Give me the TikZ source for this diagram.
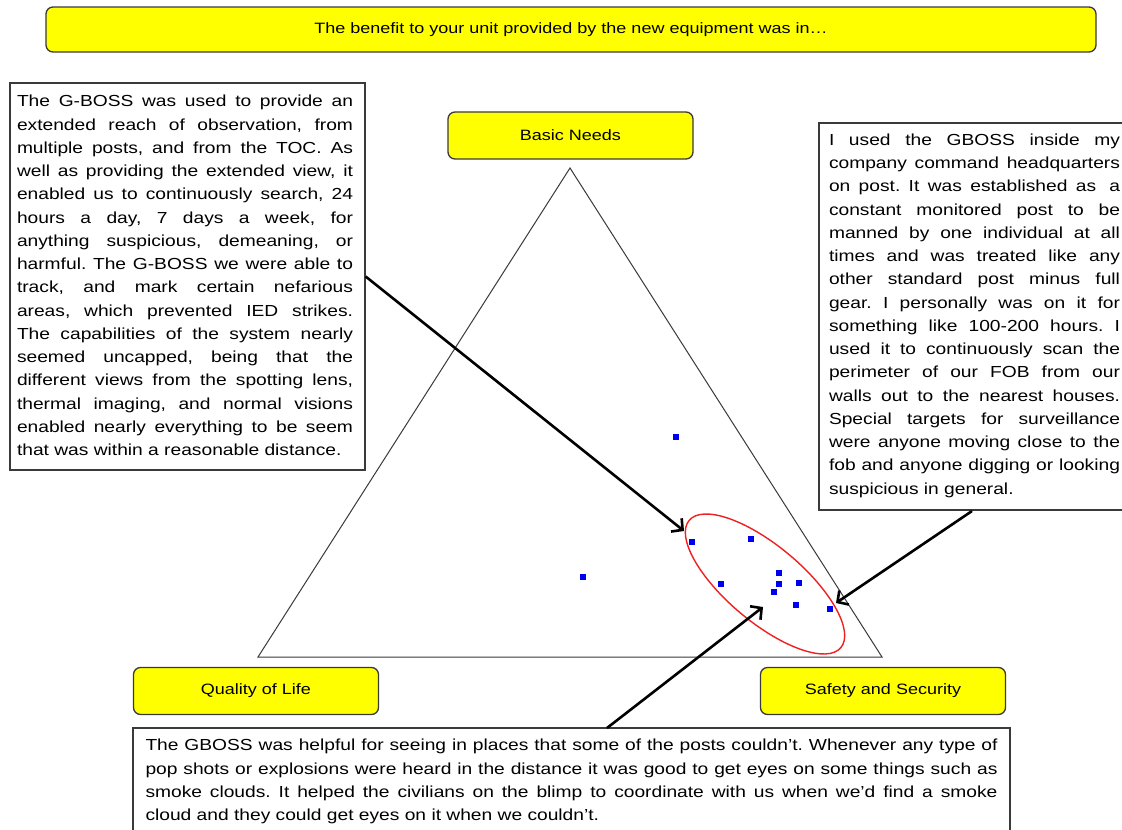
\documentclass[tikz,border=0pt]{standalone}
\usepackage{fontspec}
\setmainfont{Liberation Sans}[FakeStretch=1.2]
\usetikzlibrary{shapes.geometric,arrows.meta}
\setlength{\parindent}{0pt}
\frenchspacing
\newdimen\lw
\newcommand{\jl}[1]{\hbox to \lw{\spaceskip=0.28em plus 1fil\relax #1}\par}
\newcommand{\lastln}[1]{\hbox{#1}\par}
\definecolor{boxyellow}{HTML}{FFFF00}
\definecolor{edgegray}{HTML}{3A3A3A}
\definecolor{ptblue}{HTML}{0000F0}
\definecolor{ellred}{HTML}{F02020}
\tikzset{
  label box/.style={draw=edgegray, line width=1.3pt, fill=boxyellow, rounded corners=7pt,
    minimum width=245pt, minimum height=47pt, inner sep=0pt,
    font=\fontsize{15}{18}\selectfont},
  text frame/.style={draw=edgegray, line width=1.3pt, fill=white, inner sep=0pt},
  body/.style={font=\fontsize{16}{23.25}\selectfont, align=left},
  pt/.style={rectangle, fill=ptblue, minimum size=6pt, inner sep=0pt},
  pointer/.style={line width=2.6pt, -{Straight Barb[length=8pt,width=17pt,line width=2.6pt]}},
}
\begin{document}
\begin{tikzpicture}[x=1pt,y=-1pt]
\useasboundingbox (0,0) rectangle (1122,830);
\fill[white] (0,0) rectangle (1122,830);

% title
\node[label box, minimum width=1050pt, minimum height=45pt] (title) at (571,29.5)
  {The benefit to your unit provided by the new equipment was in\ldots};

% triangle
\coordinate (apex) at (570,168);
\coordinate (bl) at (258,657);
\coordinate (br) at (882,657);
\draw[edgegray, line width=1pt] (apex) -- (bl) -- (br) -- cycle;

% corner labels
\node[label box] (basic) at (570.5,135.5) {Basic Needs};
\node[label box] (qol) at (256,691) {Quality of Life};
\node[label box] (safe) at (883,691) {Safety and Security};

% data points
\node[pt] (p1) at (676,437) {};
\node[pt] (p2) at (692,542) {};
\node[pt] (p3) at (751,539) {};
\node[pt] (p4) at (583,577) {};
\node[pt] (p5) at (721,584) {};
\node[pt] (p6) at (779,573) {};
\node[pt] (p7) at (779,584) {};
\node[pt] (p8) at (799,583) {};
\node[pt] (p9) at (774,592) {};
\node[pt] (p10) at (796,605) {};
\node[pt] (p11) at (830,609) {};

% ellipse
\node[ellipse, draw=ellred, line width=1.4pt, minimum width=198pt, minimum height=76pt,
  inner sep=0pt, rotate=-40] (ell) at (765,584) {};

% left text box
\node[text frame, minimum width=355pt, minimum height=387pt] (lbox) at (187.5,276.5) {};
\node[body, text width=336pt, inner sep=0pt] (ltext) at (185,275.5) {\lw=336pt
\jl{The G-BOSS was used to provide an}
\jl{extended reach of observation, from}
\jl{multiple posts, and from the TOC. As}
\jl{well as providing the extended view, it}
\jl{enabled us to continuously search, 24}
\jl{hours a day, 7 days a week, for}
\jl{anything suspicious, demeaning, or}
\jl{harmful. The G-BOSS we were able to}
\jl{track, and mark certain nefarious}
\jl{areas, which prevented IED strikes.}
\jl{The capabilities of the system nearly}
\jl{seemed uncapped, being that the}
\jl{different views from the spotting lens,}
\jl{thermal imaging, and normal visions}
\jl{enabled nearly everything to be seem}
\lastln{that was within a reasonable distance.}};

% right text box
\node[text frame, minimum width=311pt, minimum height=387pt] (rbox) at (974.5,316.5) {};
\node[body, text width=291pt, inner sep=0pt] (rtext) at (974.5,315.5) {\lw=291pt
\jl{I used the GBOSS inside my}
\jl{company command headquarters}
\jl{on post. It was established as \kern0.3em a}
\jl{constant monitored post to be}
\jl{manned by one individual at all}
\jl{times and was treated like any}
\jl{other standard post minus full}
\jl{gear. I personally was on it for}
\jl{something like 100-200 hours. I}
\jl{used it to continuously scan the}
\jl{perimeter of our FOB from our}
\jl{walls out to the nearest houses.}
\jl{Special targets for surveillance}
\jl{were anyone moving close to the}
\jl{fob and anyone digging or looking}
\lastln{suspicious in general.}};

% bottom text box
\node[text frame, minimum width=877pt, minimum height=110pt] (bbox) at (571.5,783) {};
\node[body, text width=852pt, inner sep=0pt] (btext) at (571.5,781.5) {\lw=852pt
\jl{The GBOSS was helpful for seeing in places that some of the posts couldn’t. Whenever any type of}
\jl{pop shots or explosions were heard in the distance it was good to get eyes on some things such as}
\jl{smoke clouds. It helped the civilians on the blimp to coordinate with us when we’d find a smoke}
\lastln{cloud and they could get eyes on it when we couldn’t.}};

% pointers
\coordinate (tipL) at (684,531);
\coordinate (tipR) at (836,603);
\coordinate (tipB) at (763,607);
\coordinate (startB) at (607,728);
\coordinate (startR) at (972,511);
\draw[pointer] (lbox.east) -- (tipL);
\draw[pointer] (startR) -- (tipR);
\draw[pointer] (startB) -- (tipB);
\end{tikzpicture}
\end{document}
